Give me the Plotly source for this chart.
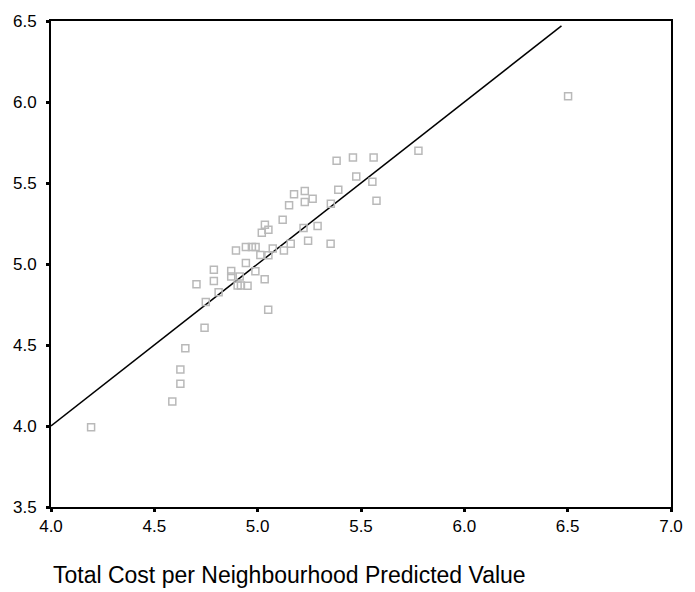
import plotly.graph_objects as go

predicted = [4.194, 4.587, 4.626, 4.626, 4.650, 4.743, 4.749, 4.704, 4.788, 4.788,
             4.811, 4.872, 4.872, 4.895, 4.943, 4.972, 4.990, 4.943, 4.989, 4.913,
             4.903, 4.919, 4.951, 5.034, 5.051, 5.013, 5.052, 5.073, 5.020, 5.052,
             5.035, 5.121, 5.127, 5.160, 5.152, 5.176, 5.228, 5.228, 5.266, 5.222,
             5.290, 5.244, 5.354, 5.353, 5.390, 5.382, 5.461, 5.561, 5.477, 5.555,
             5.575, 5.778, 6.502]
observed = [3.993, 4.151, 4.261, 4.348, 4.480, 4.607, 4.766, 4.875, 4.895, 4.965,
            4.825, 4.957, 4.923, 5.083, 5.105, 5.105, 5.105, 5.006, 4.956, 4.923,
            4.867, 4.867, 4.866, 4.906, 4.717, 5.056, 5.054, 5.096, 5.193, 5.212,
            5.242, 5.273, 5.084, 5.125, 5.362, 5.431, 5.451, 5.382, 5.403, 5.222,
            5.234, 5.143, 5.372, 5.125, 5.459, 5.638, 5.658, 5.658, 5.540, 5.508,
            5.391, 5.699, 6.036]
ref_line = [4.0, 6.47]
tick_vals_x = [4.0, 4.5, 5.0, 5.5, 6.0, 6.5, 7.0]
tick_vals_y = [3.5, 4.0, 4.5, 5.0, 5.5, 6.0, 6.5]
x_title = "Total Cost per Neighbourhood Predicted Value"

fig = go.Figure()
fig.add_trace(go.Scatter(x=ref_line, y=ref_line, mode="lines",
                         line=dict(color="black", width=1.5), showlegend=False,
                         hoverinfo="skip"))
fig.add_trace(go.Scatter(x=predicted, y=observed, mode="markers",
                         marker=dict(symbol="square-open", size=7,
                                     color="#b9b9b9", line=dict(width=1.5, color="#b9b9b9")),
                         showlegend=False))

font_family = "Liberation Sans, Arial, sans-serif"
axis_common = dict(showline=True, linecolor="black", linewidth=2, mirror=True,
                   showgrid=False, zeroline=False, ticks="outside", ticklen=3,
                   tickwidth=3, tickcolor="black",
                   tickfont=dict(family=font_family, size=17, color="black"))
fig.update_xaxes(range=[4.0, 7.0], tickvals=tick_vals_x,
                 ticktext=[f"{v:.1f}" for v in tick_vals_x], **axis_common)
fig.update_yaxes(range=[3.5, 6.5], tickvals=tick_vals_y,
                 ticktext=[f"{v:.1f}" for v in tick_vals_y], ticklabelstandoff=6,
                 **axis_common)

fig.add_annotation(text=x_title, xref="paper", yref="paper", x=0.0, y=-0.139,
                   xanchor="left", yanchor="middle", showarrow=False,
                   font=dict(family=font_family, size=23, color="black"))

fig.update_layout(width=695, height=592, margin=dict(l=51, r=13, t=14, b=85),
                  plot_bgcolor="white", paper_bgcolor="white")
fig.write_html("out.html")
